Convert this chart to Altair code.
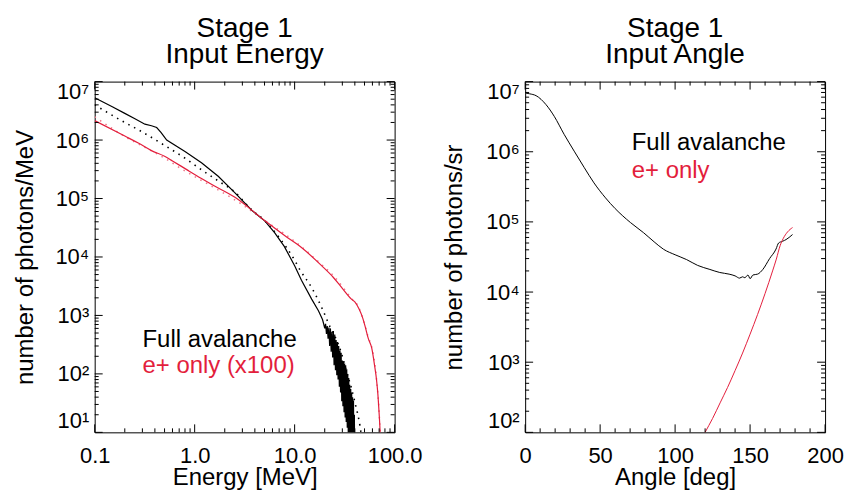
import altair as alt
import pandas as pd

FONT = "Liberation Sans"
RED = "#e31e3c"
PINK = "#f0788a"
W, H = 301, 352

# ---------------- Left panel: input energy spectra ----------------
E_full = [0.1, 0.15, 0.2, 0.25, 0.318, 0.37, 0.417, 0.46, 0.525, 0.8, 1.17, 1.72,
          2.53, 3.72, 5.05, 6.3, 7.9, 10.0, 11.7, 14.8, 17.3, 19.0, 19.5,
          20.0, 20.4, 20.8, 21.2, 21.6, 22.0, 22.4, 22.8, 23.2, 23.6, 24.0, 24.4,
          24.8, 25.2, 25.6, 26.0, 26.4, 26.8, 27.2, 27.6, 28.0, 28.4, 28.8, 29.2,
          29.6, 30.0, 30.4, 30.8, 31.2, 31.6, 32.0, 32.4, 32.8, 33.2, 33.6, 34.0,
          34.4, 34.8, 35.2, 35.6, 36.0, 36.4, 36.8, 37.2, 37.6, 38.0, 38.4, 38.8,
          39.2, 39.6, 40.0]
N_full = [5.3e6, 3.7e6, 2.86e6, 2.33e6, 1.87e6, 1.76e6, 1.64e6, 1.35e6, 1.0e6, 6.4e5,
          4.1e5, 2.4e5, 1.25e5, 6.3e4, 4.1e4, 2.6e4, 1.5e4, 7.1e3, 4.0e3, 1.9e3,
          1.2e3, 850, 720,
          600, 720, 480, 660, 400, 620, 300, 600, 240, 520, 190, 540,
          140, 470, 115, 380, 95, 350, 80, 300, 60, 250, 48, 230,
          34, 170, 28, 165, 22, 150, 18, 140, 15, 120, 12, 100,
          9, 85, 8, 65, 6, 55, 5, 48, 3.5, 40, 3, 35,
          2, 20, 1]

E_full_dot = [0.1, 0.2, 0.273, 0.5, 0.8, 1.17, 1.72, 2.53, 3.72, 5.05, 7.0, 10.0,
              11.3, 14.8, 18.6, 23.4, 26.3, 29.5, 33.0, 37.2, 40.0, 45.0, 48.0]
N_full_dot = [4.0e6, 2.0e6, 1.5e6, 8.1e5, 4.9e5, 3.1e5, 2.0e5, 1.28e5, 6.4e4, 4.15e4,
              2.15e4, 8.8e3, 6.0e3, 3.0e3, 1.38e3, 560, 380, 220, 110, 55, 33, 13, 6]

E_pos = [0.1, 0.2, 0.273, 0.37, 0.5, 0.6, 0.865, 1.17, 1.5, 2.53, 5.05, 8.0, 11.7,
         18.6, 24.3, 30.0, 37.0, 40.0, 44.0, 48.0, 50.7, 54.6, 59.2, 63.0, 66.0,
         68.0, 70.0, 71.6, 72.5]
N_pos = [2.15e6, 1.17e6, 8.9e5, 6.6e5, 5.3e5, 4.4e5, 3.0e5, 2.2e5, 1.72e5, 1.05e5,
         4.15e4, 2.3e4, 1.45e4, 7.1e3, 4.5e3, 2.9e3, 1.9e3, 1.7e3, 1.3e3, 900, 650,
         400, 270, 140, 78, 45, 21, 10, 5]

E_pos_dot = [0.1, 0.142, 0.2, 0.318, 0.5, 0.74, 1.5, 2.95, 5.05, 11.7, 18.6, 25.0,
             37.0, 44.0, 50.0, 54.6, 59.0, 66.0, 70.0, 71.6, 72.5]
N_pos_dot = [2.5e6, 1.67e6, 1.15e6, 7.5e5, 4.9e5, 3.2e5, 1.6e5, 8.0e4, 4.2e4, 1.5e4,
             7.4e3, 4.6e3, 1.95e3, 1.35e3, 720, 420, 290, 80, 22, 10, 5]

# ---------------- Right panel: input angle ----------------
ang_full = [0.5, 3, 7.3, 13.9, 19.4, 26, 32.7, 39.3, 45.9, 53.6, 60, 70.2, 79, 86,
            92.3, 100, 107.7, 115, 123.2, 129.8, 136, 140, 143, 145, 146.5, 148.6,
            150, 151.9, 155, 158.5, 163, 167.3, 169, 171.7, 174, 176, 178.3]
N_ang_full = [6.85e6, 6.7e6, 6.3e6, 4.7e6, 3.2e6, 1.77e6, 1.02e6, 6.0e5, 3.6e5, 2.2e5,
              1.55e5, 9.8e4, 7.0e4, 5.2e4, 4.07e4, 3.4e4, 2.9e4, 2.4e4, 2.1e4, 1.9e4,
              1.8e4, 1.7e4, 1.58e4, 1.65e4, 1.6e4, 1.75e4, 1.55e4, 1.75e4, 1.8e4,
              2.1e4, 3.0e4, 4.1e4, 5.0e4, 5.3e4, 5.6e4, 6.0e4, 6.6e4]

ang_pos = [118, 120, 125, 130, 135, 140, 145, 150, 155, 160, 165, 167.5, 170, 172,
           175, 178.3]
N_ang_pos = [83, 100, 158, 263, 437, 760, 1350, 2510, 4790, 9550, 2.0e4, 2.95e4,
             4.57e4, 5.75e4, 7.2e4, 8.3e4]

# ---------------- Tick values ----------------
E_major = [0.1, 1.0, 10.0, 100.0]
E_minor = [m * d for d in (0.1, 1.0, 10.0) for m in range(2, 10)]
NL_major = [1e1, 1e2, 1e3, 1e4, 1e5, 1e6, 1e7]
NL_minor = [m * 10.0 ** k for k in range(1, 7) for m in range(2, 10)]
A_major = [0, 50, 100, 150, 200]
A_minor = [a for a in range(10, 200, 10) if a % 50 != 0]
NR_major = [1e2, 1e3, 1e4, 1e5, 1e6, 1e7]
NR_minor = [m * 10.0 ** k for k in range(2, 7) for m in range(2, 10)]

SUP = "['⁰','¹','²','³','⁴','⁵','⁶','⁷','⁸','⁹']"
POW_EXPR = "'10' + " + SUP + "[round(log(datum.value) / LN10)]"


def df(xs, ys):
    return pd.DataFrame({"x": xs, "y": ys})


def panel(title, series, xscale, yscale, xaxis, yaxis, xmaj, xmin, ymaj, ymin, texts):
    X = lambda: alt.X("x:Q", scale=xscale, axis=xaxis)
    Y = lambda: alt.Y("y:Q", scale=yscale, axis=yaxis)
    layers = []
    for data, color, dash, sw, interp in series:
        mk = dict(color=color, strokeWidth=sw, clip=True, interpolate=interp)
        if dash:
            mk["strokeDash"] = dash
        layers.append(alt.Chart(data).mark_line(**mk).encode(x=X(), y=Y()))
    for vals, L in ((xmaj, 8), (xmin, 4)):
        d = pd.DataFrame({"x": vals})
        layers.append(alt.Chart(d).mark_rule(color="black", strokeWidth=1).encode(
            x=X(), y=alt.value(H), y2=alt.value(H - L)))
        layers.append(alt.Chart(d).mark_rule(color="black", strokeWidth=1).encode(
            x=X(), y=alt.value(0), y2=alt.value(L)))
    for vals, L in ((ymaj, 8), (ymin, 4)):
        d = pd.DataFrame({"y": vals})
        layers.append(alt.Chart(d).mark_rule(color="black", strokeWidth=1).encode(
            y=Y(), x=alt.value(0), x2=alt.value(L)))
        layers.append(alt.Chart(d).mark_rule(color="black", strokeWidth=1).encode(
            y=Y(), x=alt.value(W), x2=alt.value(W - L)))
    for txt, color, px, py in texts:
        layers.append(alt.Chart(pd.DataFrame({"t": [txt]})).mark_text(
            align="left", baseline="alphabetic", font=FONT, fontSize=24, color=color
        ).encode(x=alt.value(px), y=alt.value(py), text="t:N"))
    return alt.layer(*layers).properties(
        width=W, height=H,
        title=alt.TitleParams(title, font=FONT, fontSize=28, fontWeight="normal",
                              color="black", lineHeight=26, offset=12, anchor="middle"))


def xaxis(vals, fmt, title):
    return alt.Axis(values=vals, format=fmt, labelFont=FONT, labelFontSize=22,
                    labelColor="black", labelPadding=13, labelFlush=False,
                    ticks=False, domain=False, grid=False, title=title,
                    titleFont=FONT, titleFontSize=24, titleFontWeight="normal",
                    titleColor="black", titleY=52, titleBaseline="alphabetic")


def yaxis(vals, title, tx):
    return alt.Axis(values=vals, labelExpr=POW_EXPR, labelFont=FONT, labelFontSize=22,
                    labelColor="black", labelPadding=6, labelFlush=True,
                    ticks=False, domain=False, grid=False, title=title,
                    titleFont=FONT, titleFontSize=24, titleFontWeight="normal",
                    titleColor="black", titleX=tx, titleBaseline="alphabetic")


left = panel(
    ["Stage 1", "Input Energy"],
    [
        (df(E_full_dot, N_full_dot), "black", [1.5, 5], 1.6, "monotone"),
        (df(E_pos_dot, N_pos_dot), PINK, [1.5, 5], 1.5, "monotone"),
        (df(E_full, N_full), "black", None, 1.2, "linear"),
        (df(E_pos, N_pos), RED, None, 1.2, "monotone"),
    ],
    alt.Scale(type="log", domain=[0.1, 100], nice=False),
    alt.Scale(type="log", domain=[10, 1e7], nice=False),
    xaxis(E_major, ".1f", "Energy [MeV]"),
    yaxis(NL_major, "number of photons/MeV", -62),
    E_major, E_minor, NL_major, NL_minor,
    [("Full avalanche", "black", 48, 266), ("e+ only (x100)", RED, 48, 292)],
)

right = panel(
    ["Stage 1", "Input Angle"],
    [
        (df(ang_full, N_ang_full), "black", None, 1, "monotone"),
        (df(ang_pos, N_ang_pos), RED, None, 1, "monotone"),
    ],
    alt.Scale(type="linear", domain=[0, 200], nice=False, zero=False),
    alt.Scale(type="log", domain=[100, 1e7], nice=False),
    xaxis(A_major, "d", "Angle [deg]"),
    yaxis(NR_major, "number of photons/sr", -64),
    A_major, A_minor, NR_major, NR_minor,
    [("Full avalanche", "black", 107, 69), ("e+ only", RED, 107, 97)],
)

chart = alt.hconcat(left, right, spacing=18).properties(
    padding={"left": 5, "top": 5, "right": 0, "bottom": 0},
    background="white",
).configure_view(stroke="black", strokeWidth=1)

chart.save("out.html", embed_options={"renderer": "svg", "actions": False})
